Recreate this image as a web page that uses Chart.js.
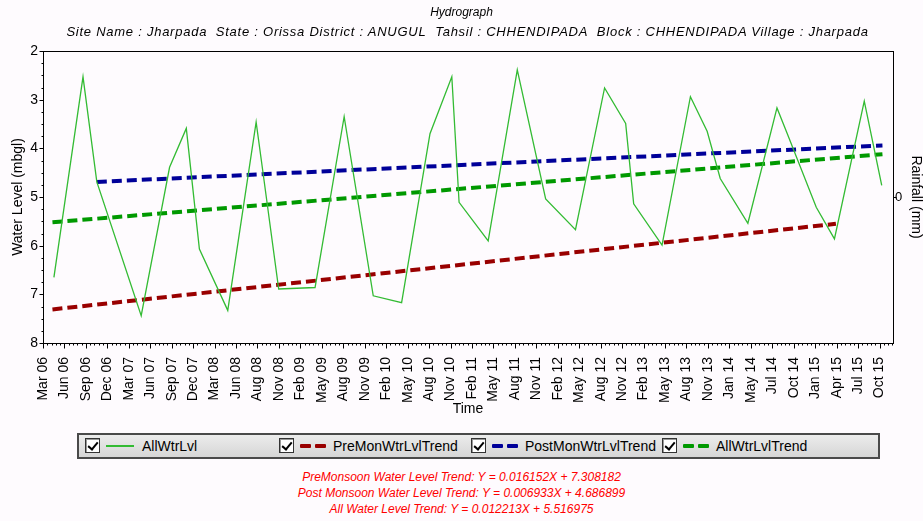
<!DOCTYPE html>
<html>
<head>
<meta charset="utf-8">
<script src="https://cdn.jsdelivr.net/npm/chart.js@4/dist/chart.umd.min.js"></script>
<style>
  body { margin: 0; background: #fefbfe; font-family: 'Liberation Sans', Arial, sans-serif; }
  #wrap { position: relative; width: 923px; height: 521px; }
  #box { position: absolute; left: 0; top: 0; width: 923px; height: 420px; }
  .head { position: absolute; left: 0; width: 923px; text-align: center; font-style: italic; color: #000; white-space: nowrap; }
  #t1 { top: 4px; font-size: 12px; line-height: 16px; }
  #t2 { top: 24px; left: 6px; font-size: 13px; line-height: 16px; letter-spacing: 0.75px; }
  #legend { position: absolute; left: 77px; top: 433px; width: 799px; height: 22px;
    border: 2px solid #4a4a4a; background: linear-gradient(#ececec, #d6d6d6); }
  .item { position: absolute; top: 3px; height: 16px; font-size: 14px; line-height: 16px; color: #000; }
  .cb { position: absolute; left: 0; top: 0; width: 13px; height: 13px; background: #fff;
    border: 1px solid #333; box-shadow: inset 1px 1px 0 #999; }
  .cb::after { content: ''; position: absolute; left: 4px; top: 1px; width: 4px; height: 8px;
    border: solid #000; border-width: 0 2px 2px 0; transform: rotate(40deg); }
  .solid { position: absolute; left: 21px; top: 7px; width: 28px; height: 2px; }
  .dash { position: absolute; top: 6px; width: 11px; height: 4px; border-radius: 1px; }
  .txt { position: absolute; top: 0; white-space: nowrap; }
  #eqs { position: absolute; left: 0; top: 469px; width: 923px; text-align: center;
    color: #ff0000; font-style: italic; font-size: 12px; line-height: 16px; }
</style>
</head>
<body>
<div id="wrap">
  <div id="box"><canvas id="grafico"></canvas></div>
  <div class="head" id="t1">Hydrograph</div>
  <div class="head" id="t2">Site Name : Jharpada&nbsp; State : Orissa District : ANUGUL&nbsp; Tahsil : CHHENDIPADA&nbsp; Block : CHHENDIPADA Village : Jharpada</div>
  <div id="legend"></div>
  <div id="eqs">
    <div>PreMonsoon Water Level Trend: Y = 0.016152X + 7.308182</div>
    <div>Post Monsoon Water Level Trend: Y = 0.006933X + 4.686899</div>
    <div>All Water Level Trend: Y = 0.012213X + 5.516975</div>
  </div>
</div>
<script>
// x values are months counted from Mar 06
const tickLabels = ['Mar 06','Jun 06','Sep 06','Dec 06','Mar 07','Jun 07','Sep 07','Dec 07','Mar 08','Jun 08',
  'Aug 08','Nov 08','Feb 09','May 09','Aug 09','Nov 09','Feb 10','May 10','Aug 10','Nov 10',
  'Feb 11','May 11','Aug 11','Nov 11','Feb 12','May 12','Aug 12','Nov 12','Feb 13','May 13',
  'Aug 13','Nov 13','Jan 14','May 14','Jul 14','Oct 14','Jan 15','Apr 15','Jul 15','Oct 15']
const labelStep = 115 / 39

const allDates = [1.5, 5.5, 7.4, 13.5, 17.4, 19.7, 21.5, 25.4, 29.3, 30.2, 32.4, 37.4, 41.4, 45.4, 49.3, 53.2, 56.2, 57.2,
  61.2, 65.2, 69.1, 73.2, 77.2, 80.1, 81.2, 85.1, 89.0, 91.3, 93.1, 96.9, 100.9, 102.4, 106.3, 108.8, 112.9, 115.3]
const allLevels = [6.65, 2.53, 4.69, 7.44, 4.39, 3.59, 6.07, 7.33, 3.46, 4.45, 6.89, 6.86, 3.35, 7.03, 7.17, 3.70, 2.53, 5.11,
  5.90, 2.39, 5.04, 5.67, 2.76, 3.49, 5.14, 5.99, 2.94, 3.65, 4.62, 5.54, 3.17, 3.73, 5.21, 5.86, 3.03, 4.76]

const preDates = [1.3, 109.0]
const preLevels = [7.31, 5.55]
const postDates = [7.4, 115.4]
const postLevels = [4.69, 3.94]
const allTrendDates = [1.3, 115.4]
const allTrendLevels = [5.52, 4.12]

const seriesNames = ['AllWtrLvl', 'PreMonWtrLvlTrend', 'PostMonWtrLvlTrend', 'AllWtrLvlTrend']
const seriesColors = ['#33bb33', '#990000', '#000099', '#009900']

const pts = (xs, ys) => xs.map((x, i) => ({ x: x, y: ys[i] }))
const font = 'Liberation Sans, Arial, sans-serif'

// frame and tick marks drawn like the original (major + minor)
const frame = {
  id: 'frame',
  afterDraw(chart) {
    const c = chart.ctx, a = chart.chartArea
    const sx = chart.scales.x, sy = chart.scales.y
    c.save()
    c.strokeStyle = '#000'
    c.lineWidth = 1
    c.strokeRect(Math.round(a.left) + 0.5, Math.round(a.top) + 0.5, Math.round(a.right - a.left), Math.round(a.bottom - a.top))
    c.beginPath()
    const yb = Math.round(a.bottom) + 0.5
    for (let i = 0; i < tickLabels.length; i++) {
      for (let k = 0; k < 5; k++) {
        const v = (i + k / 5) * labelStep
        if (v > sx.max) break
        const px = Math.round(sx.getPixelForValue(v)) + 0.5
        c.moveTo(px, yb)
        c.lineTo(px, yb + (k === 0 ? 5 : 2))
      }
    }
    const xl = Math.round(a.left) + 0.5
    for (let v = 2; v <= 8.001; v += 0.25) {
      const py = Math.round(sy.getPixelForValue(v)) + 0.5
      const major = Math.abs(v - Math.round(v)) < 0.01
      c.moveTo(xl, py)
      c.lineTo(xl - (major ? 4 : 2), py)
    }
    const xr = Math.round(a.right) + 0.5
    const p0 = Math.round(chart.scales.y2.getPixelForValue(0)) + 0.5
    c.moveTo(xr, p0)
    c.lineTo(xr + 3, p0)
    c.stroke()
    c.restore()
  }
}

const ctx = document.getElementById('grafico')

new Chart(ctx, {
  type: 'line',
  data: {
    datasets: [
      { label: seriesNames[0], data: pts(allDates, allLevels), borderColor: seriesColors[0], borderWidth: 1.3, pointRadius: 0, tension: 0 },
      { label: seriesNames[1], data: pts(preDates, preLevels), borderColor: seriesColors[1], borderWidth: 4, borderDash: [10, 5], pointRadius: 0 },
      { label: seriesNames[2], data: pts(postDates, postLevels), borderColor: seriesColors[2], borderWidth: 4, borderDash: [10, 5], pointRadius: 0 },
      { label: seriesNames[3], data: pts(allTrendDates, allTrendLevels), borderColor: seriesColors[3], borderWidth: 4, borderDash: [10, 5], pointRadius: 0 }
    ]
  },
  options: {
    responsive: true,
    maintainAspectRatio: false,
    animation: false,
    layout: { padding: { top: 51 } },
    plugins: {
      legend: { display: false },
      tooltip: { enabled: false }
    },
    scales: {
      x: {
        type: 'linear', min: 0, max: 116.85,
        grid: { display: false }, border: { display: false },
        afterBuildTicks: (scale) => { scale.ticks = tickLabels.map((t, i) => ({ value: i * labelStep })) },
        afterFit: (scale) => { scale.height = 77 },
        ticks: {
          autoSkip: false, maxRotation: 90, minRotation: 90, padding: 6, color: '#000',
          font: { family: font, size: 14 },
          callback: (value, index) => tickLabels[index]
        },
        title: { display: true, text: 'Time', color: '#000', font: { family: font, size: 14 }, padding: { top: 0, bottom: 2 } }
      },
      y: {
        position: 'left', reverse: true, min: 2, max: 8,
        grid: { display: false, drawTicks: false }, border: { display: false },
        afterFit: (scale) => { scale.width = 43 },
        ticks: { stepSize: 1, padding: 5, color: '#000', font: { family: font, size: 14 } },
        title: { display: true, text: 'Water Level (mbgl)', color: '#000', font: { family: font, size: 14 }, padding: { top: 10, bottom: 0 } }
      },
      y2: {
        position: 'right', min: -1, max: 1,
        grid: { display: false, drawTicks: false }, border: { display: false },
        afterBuildTicks: (scale) => { scale.ticks = [{ value: 0 }] },
        afterFit: (scale) => { scale.width = 30 },
        ticks: { padding: 2, color: '#000', font: { family: font, size: 13 } },
        title: { display: true, text: 'Rainfall (mm)', color: '#000', font: { family: font, size: 14 }, padding: { top: -1, bottom: 0 } }
      }
    }
  },
  plugins: [frame]
})

// legend with check boxes, as in the original
const legend = document.getElementById('legend')
const itemLeft = [6, 200, 392, 583]
seriesNames.forEach((name, i) => {
  const d = document.createElement('div')
  d.className = 'item'
  d.style.left = itemLeft[i] + 'px'
  let html = '<span class="cb"></span>'
  if (i === 0) {
    html += '<span class="solid" style="background:' + seriesColors[i] + '"></span>'
  } else {
    html += '<span class="dash" style="left:21px;background:' + seriesColors[i] + '"></span>'
    html += '<span class="dash" style="left:36px;background:' + seriesColors[i] + '"></span>'
  }
  html += '<span class="txt" style="left:' + (i === 0 ? 57 : 54) + 'px">' + name + '</span>'
  d.innerHTML = html
  legend.appendChild(d)
})
</script>
</body>
</html>
